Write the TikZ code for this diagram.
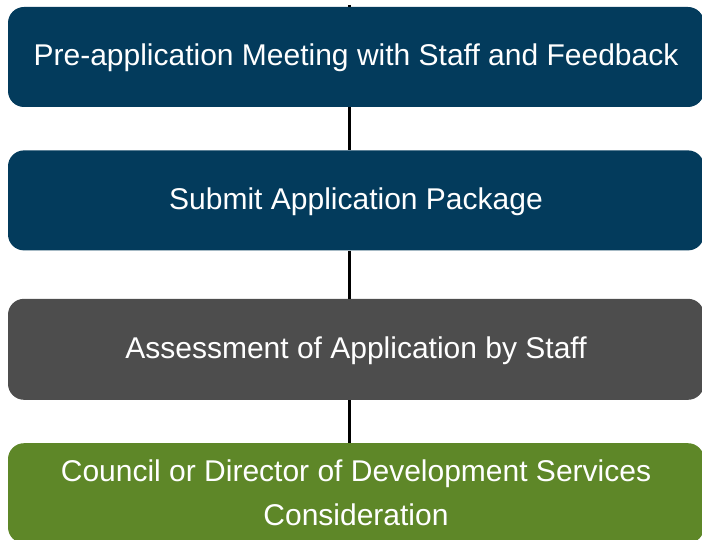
\documentclass[tikz,border=0pt]{standalone}
\usepackage{fontspec}
\setmainfont{Liberation Sans}
\usepackage{xcolor}
\usetikzlibrary{positioning}

\definecolor{stepblue}{RGB}{3,59,92}
\definecolor{stepgray}{RGB}{77,77,77}
\definecolor{stepgreen}{RGB}{94,135,40}

\begin{document}
\begin{tikzpicture}[x=1pt,y=-1pt,node distance=43pt]
\tikzstyle{stage}=[rectangle, rounded corners=16pt, minimum width=696pt, minimum height=100pt,
  inner sep=0pt, text=white, align=center, font=\fontsize{30}{44}\selectfont]
\tikzstyle{oneline}=[text height=24pt, text depth=6pt]
\useasboundingbox (0,0) rectangle (702,540);

\node[stage, oneline, fill=stepblue] (b1) at (356,57) {Pre-application Meeting with Staff and Feedback};
\node[stage, oneline, fill=stepblue] (b2) [below=43pt of b1] {Submit Application Package};
\node[stage, oneline, fill=stepgray, minimum height=101pt] (b3) [below=48pt of b2] {Assessment of Application by Staff};
\node[stage, fill=stepgreen] (b4) [below=43pt of b3] {Council or Director of Development Services\\Consideration};

\coordinate (top) at (349,5);
\draw[line width=3pt] (top) -- (top |- b1.north);
\foreach \a/\b in {b1/b2, b2/b3, b3/b4}
  \draw[line width=3pt] (top |- \a.south) -- (top |- \b.north);
\end{tikzpicture}
\end{document}
